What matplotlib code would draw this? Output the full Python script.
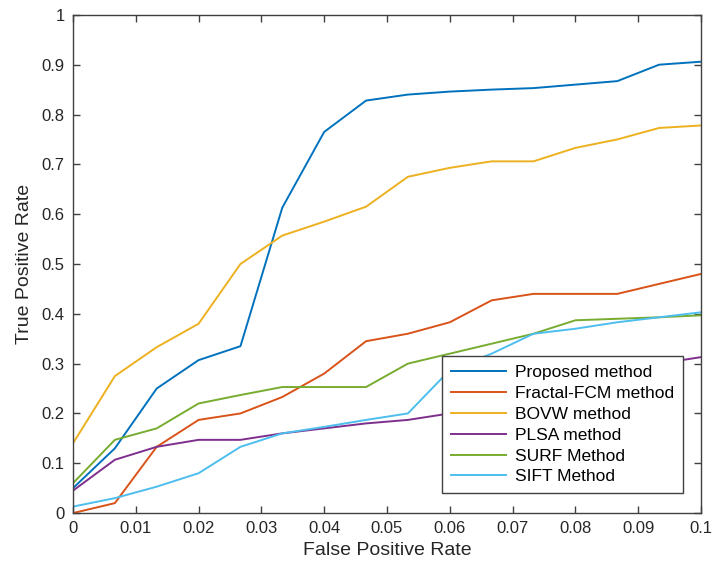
import matplotlib
matplotlib.use('Agg')
import matplotlib.pyplot as plt
from matplotlib.ticker import FuncFormatter

plt.rcParams['font.family'] = ['Liberation Sans', 'DejaVu Sans']

# False positive rate samples
fpr = [0, 0.00667, 0.01333, 0.02, 0.02667, 0.03333, 0.04, 0.04667,
       0.05333, 0.06, 0.06667, 0.07333, 0.08, 0.08667, 0.09333, 0.1]

proposed = [0.05, 0.13, 0.25, 0.307, 0.335, 0.613, 0.765, 0.828,
            0.84, 0.846, 0.85, 0.853, 0.86, 0.867, 0.9, 0.906]
fractal = [0.0, 0.02, 0.133, 0.187, 0.2, 0.233, 0.28, 0.345,
           0.36, 0.383, 0.427, 0.44, 0.44, 0.44, 0.46, 0.48]
bovw = [0.14, 0.275, 0.333, 0.38, 0.5, 0.557, 0.585, 0.615,
        0.675, 0.693, 0.706, 0.706, 0.733, 0.75, 0.773, 0.778]
plsa = [0.045, 0.107, 0.133, 0.147, 0.147, 0.16, 0.17, 0.18,
        0.187, 0.2, 0.22, 0.24, 0.26, 0.28, 0.3, 0.313]
surf = [0.06, 0.147, 0.17, 0.22, 0.237, 0.253, 0.253, 0.253,
        0.3, 0.32, 0.34, 0.36, 0.387, 0.39, 0.393, 0.397]
sift = [0.013, 0.03, 0.053, 0.08, 0.133, 0.16, 0.173, 0.187,
        0.2, 0.287, 0.32, 0.36, 0.37, 0.383, 0.393, 0.403]

labels = ['Proposed method', 'Fractal-FCM method', 'BOVW method',
          'PLSA method', 'SURF Method', 'SIFT Method']
colors = ['#0072BD', '#D95319', '#EDB120', '#7E2F8E', '#77AC30', '#4DBEEE']

fig = plt.figure(figsize=(7.12, 5.72), dpi=100)
ax = fig.add_axes([0.1025, 0.103, 0.882, 0.871])

for series, lab, col in zip([proposed, fractal, bovw, plsa, surf, sift], labels, colors):
    ax.plot(fpr, series, color=col, linewidth=1.4, label=lab)

ax.set_xlim(0, 0.1)
ax.set_ylim(0, 1)
ax.set_xticks([i / 100 for i in range(11)])
ax.set_yticks([i / 10 for i in range(11)])
fmt = FuncFormatter(lambda v, p: '%g' % round(v, 4))
ax.xaxis.set_major_formatter(fmt)
ax.yaxis.set_major_formatter(fmt)

axcol = '#404040'
for s in ax.spines.values():
    s.set_color(axcol)
    s.set_linewidth(1.0)
ax.tick_params(direction='in', top=True, right=True, length=5, width=1.0,
               colors=axcol, labelsize=12, labelcolor='#262626', pad=6)

ax.set_xlabel('False Positive Rate', fontsize=14, color='#262626', labelpad=4)
ax.set_ylabel('True Positive Rate', fontsize=14, color='#262626', labelpad=6)

leg = ax.legend(loc='lower right', bbox_to_anchor=(0.971, 0.04), fancybox=False,
                framealpha=1, edgecolor=axcol, fontsize=12.5, handlelength=3.2,
                labelspacing=0.33, borderpad=0.5, handletextpad=0.5,
                borderaxespad=0)
leg.get_frame().set_linewidth(1.0)

plt.savefig('out.png', dpi=100)
